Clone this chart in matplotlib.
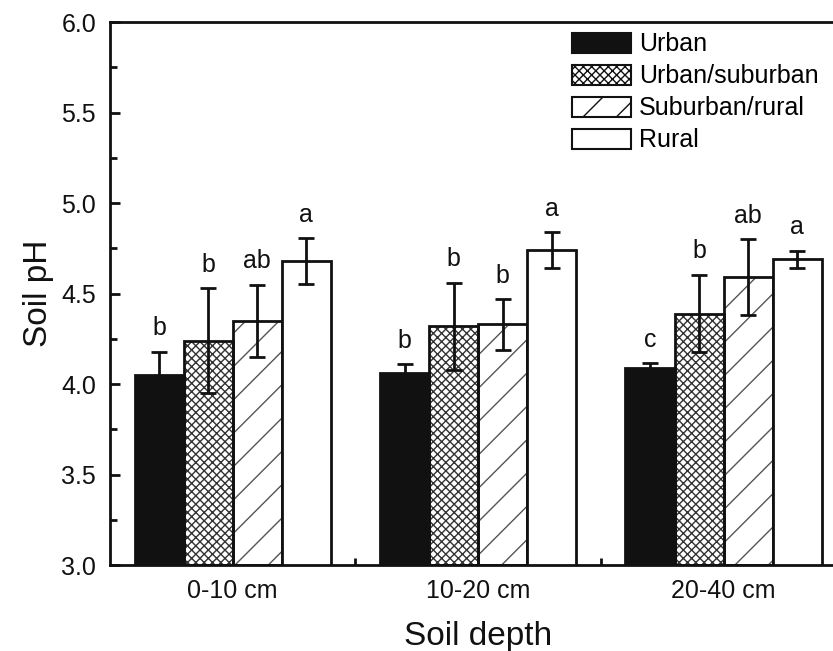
import matplotlib
matplotlib.use("Agg")
import matplotlib.pyplot as plt
import numpy as np
from matplotlib.patches import Patch

plt.rcParams['font.family'] = ['Liberation Sans', 'DejaVu Sans']

depths = ["0-10 cm", "10-20 cm", "20-40 cm"]
series = ["Urban", "Urban/suburban", "Suburban/rural", "Rural"]
means = {
    "Urban":          [4.05, 4.06, 4.09],
    "Urban/suburban": [4.24, 4.32, 4.39],
    "Suburban/rural": [4.35, 4.33, 4.59],
    "Rural":          [4.68, 4.74, 4.69],
}
errs = {
    "Urban":          [0.13, 0.05, 0.025],
    "Urban/suburban": [0.29, 0.24, 0.215],
    "Suburban/rural": [0.20, 0.14, 0.21],
    "Rural":          [0.127, 0.10, 0.047],
}
letters = {
    "Urban":          ["b", "b", "c"],
    "Urban/suburban": ["b", "b", "b"],
    "Suburban/rural": ["ab", "b", "ab"],
    "Rural":          ["a", "a", "a"],
}

styles = {
    "Urban":          dict(fc="#111111", hatch=None, hc="#111111"),
    "Urban/suburban": dict(fc="white", hatch="xxxx", hc="#333333"),
    "Suburban/rural": dict(fc="white", hatch="/", hc="#555555"),
    "Rural":          dict(fc="white", hatch=None, hc="black"),
}

fig = plt.figure(figsize=(8.33, 6.51), dpi=100)
ax = fig.add_axes([0.132, 0.132, 0.884, 0.834])

x = np.arange(len(depths))
w = 0.2
offs = np.array([-1.5, -0.5, 0.5, 1.5]) * w
for i, s in enumerate(series):
    st = styles[s]
    pos = x + offs[i]
    if st["hatch"]:
        ax.bar(pos, np.array(means[s]) - 3.0, w, bottom=3.0, color=st["fc"],
               hatch=st["hatch"], edgecolor=st["hc"], linewidth=0, zorder=2)
    ax.bar(pos, np.array(means[s]) - 3.0, w, bottom=3.0,
           facecolor=(st["fc"] if not st["hatch"] else "none"),
           edgecolor="#111111", linewidth=2, zorder=3)
    ax.errorbar(pos, means[s], yerr=errs[s], fmt="none", ecolor="#111111",
                elinewidth=2, capsize=6, capthick=2, zorder=4)
    for j in range(len(depths)):
        ax.text(pos[j], means[s][j] + errs[s][j] + 0.09, letters[s][j],
                ha="center", va="baseline", fontsize=18, color="#111111")

ax.set_xlim(-0.5, 2.5)
ax.set_ylim(3.0, 6.0)
ax.set_yticks(np.arange(3.0, 6.01, 0.5))
ax.set_yticks(np.arange(3.25, 6.0, 0.5), minor=True)
ax.set_yticklabels([f"{v:.1f}" for v in np.arange(3.0, 6.01, 0.5)])
ax.set_xticks(x)
ax.set_xticklabels(depths)
ax.set_xticks([0.5, 1.5], minor=True)
ax.tick_params(axis="both", which="both", direction="in", width=2, labelsize=18,
               colors="#111111")
ax.tick_params(axis="both", which="major", length=7, pad=10)
ax.tick_params(axis="both", which="minor", length=5)
for sp in ax.spines.values():
    sp.set_linewidth(2)
    sp.set_color("#111111")

ax.set_xlabel("Soil depth", fontsize=24, labelpad=13, color="#111111")
ax.set_ylabel("Soil pH", fontsize=24, labelpad=5, color="#111111")

handles = []
for s in series:
    st = styles[s]
    handles.append(Patch(facecolor=st["fc"], hatch=st["hatch"],
                         edgecolor="#111111", linewidth=1.5, label=s))
leg = ax.legend(handles=handles, loc="upper left", bbox_to_anchor=(0.628, 0.981),
                frameon=False, fontsize=18, handlelength=2.35, handleheight=0.88,
                labelspacing=0.32, handletextpad=0.3, borderaxespad=0.0,
                borderpad=0.0)

fig.savefig("out.png", dpi=100)
